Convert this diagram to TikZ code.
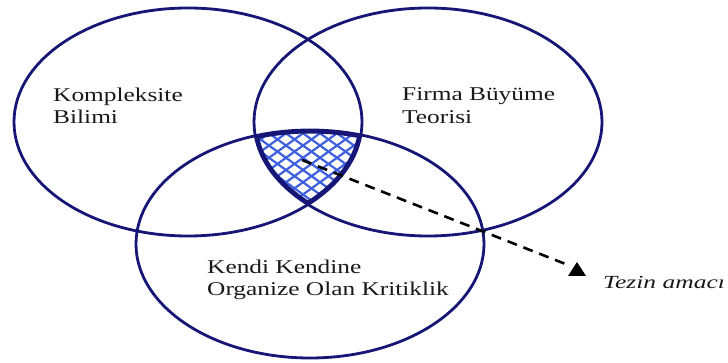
\documentclass[tikz,border=0pt]{standalone}
\usepackage{fontspec}
\usepackage{graphicx}
\usetikzlibrary{calc}
\setmainfont{Liberation Serif}
\newcommand\widetxt[2]{\scalebox{#1}[1]{#2}}
\definecolor{navy}{RGB}{22,22,118}
\definecolor{hatchblue}{RGB}{62,96,222}
\definecolor{txt}{RGB}{25,25,25}
\begin{document}
\begin{tikzpicture}[x=1pt,y=-1pt,
  ring/.style={draw=navy,line width=2.8pt},
  lbl/.style={anchor=base west,inner sep=0pt,text=txt,font=\fontsize{19.5}{23}\selectfont},
  goal/.style={anchor=base west,inner sep=0pt,text=txt,font=\fontsize{18.5}{22}\selectfont\itshape},
  hatchline/.style={draw=hatchblue,line width=2.2pt},
  dashline/.style={draw=black,line width=2.6pt,dash pattern=on 10pt off 7pt}]
\useasboundingbox (0,0) rectangle (728,363);
\def\LE{(188,122) ellipse [x radius=174pt,y radius=114pt]}
\def\RE{(428,122) ellipse [x radius=174pt,y radius=114pt]}
\def\BE{(310,244) ellipse [x radius=174pt,y radius=114pt]}
% hatched common region
\begin{scope}
  \clip \LE; \clip \RE; \clip \BE;
  \foreach \c in {150,167,...,470} {
    \draw[hatchline] (\c-150,170-108) -- (\c+150,170+108);
    \draw[hatchline] (\c-150,170+108) -- (\c+150,170-108);
  }
  \draw[draw=navy,line width=7pt] \LE;
  \draw[draw=navy,line width=7pt] \RE;
  \draw[draw=navy,line width=7pt] \BE;
\end{scope}
% circles
\draw[ring] \LE;
\draw[ring] \RE;
\draw[ring] \BE;
% labels
\node[lbl] (k1) at (53,102) {\widetxt{1.3}{Kompleksite}};
\node[lbl] (k2) at (53,124) {\widetxt{1.3}{Bilimi}};
\node[lbl] (f1) at (402,101) {\widetxt{1.3}{Firma Büyüme}};
\node[lbl] (f2) at (402,124) {\widetxt{1.3}{Teorisi}};
\node[lbl] (o1) at (207,273) {\widetxt{1.3}{Kendi Kendine}};
\node[lbl] (o2) at (207,296) {\widetxt{1.3}{Organize Olan Kritiklik}};
\node[goal] (t) at (603,289) {\widetxt{1.38}{Tezin amacı}};
% arrow
\coordinate (s) at (302,160);
\coordinate (e) at (568,265);
\coordinate (tip) at (577,270);
\draw[dashline] (s) -- (e);
\fill[black] ($(tip)+(-9,6)$) -- ($(tip)+(9,6)$) -- ($(tip)+(0,-8)$) -- cycle;
\end{tikzpicture}
\end{document}
